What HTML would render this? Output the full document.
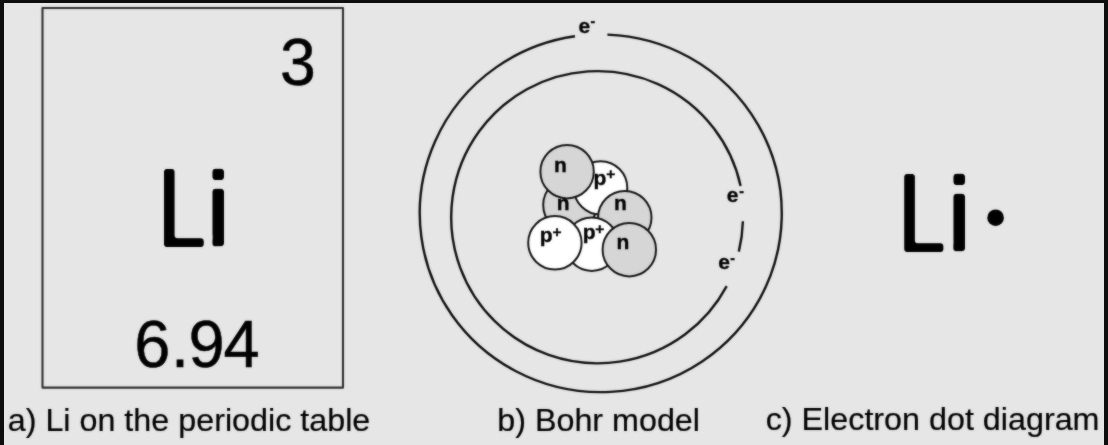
<!DOCTYPE html>
<html>
<head>
<meta charset="utf-8">
<title>Lithium</title>
<style>
html,body{margin:0;padding:0;background:#e6e6e6;}
body{width:1108px;height:445px;overflow:hidden;position:relative;}
svg{position:absolute;left:0;top:0;display:block;}
text{font-family:"Liberation Sans",sans-serif;fill:#000;}
.b{font-weight:bold;}
.r{stroke:#000;stroke-width:0.5;}
.r2{stroke:#000;stroke-width:0.2;}

</style>
</head>
<body>
<svg width="1108" height="445" viewBox="0 0 1108 445">
<defs><filter id="rnd" x="-0.1" y="-0.1" width="1.2" height="1.2"><feGaussianBlur stdDeviation="1.5" color-interpolation-filters="sRGB"/><feColorMatrix color-interpolation-filters="sRGB" type="matrix" values="1 0 0 0 0 0 1 0 0 0 0 0 1 0 0 0 0 0 5 -2"/></filter><clipPath id="cL1"><rect x="150" y="150" width="53.7" height="110"/><rect x="205" y="150" width="65" height="86"/><rect x="212.6" y="236" width="57.4" height="30"/></clipPath><clipPath id="cL2"><rect x="890" y="150" width="53.4" height="116"/><rect x="945" y="150" width="65" height="92"/><rect x="953.5" y="242" width="56.5" height="30"/></clipPath><filter id="soft" x="0" y="0" width="1" height="1" filterUnits="objectBoundingBox" color-interpolation-filters="sRGB"><feGaussianBlur in="SourceGraphic" stdDeviation="1" result="b"/><feComposite in="b" in2="SourceGraphic" operator="arithmetic" k1="0" k2="0.45" k3="0.55" k4="0"/></filter></defs>
<rect x="0" y="0" width="1108" height="445" fill="#e6e6e6"/>
<g filter="url(#soft)">
<rect x="-5" y="-5" width="1118" height="455" fill="#e6e6e6"/>

<!-- a) periodic table box -->
<rect x="42.5" y="8" width="300.5" height="379.6" fill="none" stroke="#2e2e2e" stroke-width="2.1" stroke-linejoin="round"/>
<text class="r" transform="translate(297.9 84.7) scale(0.96 1)" font-size="67" text-anchor="middle">3</text>
<g filter="url(#rnd)"><g clip-path="url(#cL1)"><text x="154.8" y="246.6" font-size="113">L<tspan dx="-10.81" dy="-1.4" font-size="103.4" stroke="#000" stroke-width="2.4" stroke-linejoin="round">i</tspan></text></g></g>
<text class="r" transform="translate(197.8 366.7) scale(0.97 1)" font-size="67" text-anchor="middle" letter-spacing="-0.6" dx="-1.2 1.2 0 -0.5">6.94</text>
<text transform="translate(7.7 431.3) scale(1 0.98)" font-size="32.3" class="r2">a) Li on the periodic table</text>

<!-- b) Bohr model -->
<g fill="none" stroke="#101010" stroke-width="2.4" id="orbits">
<path d="M607.4 34.6A181 178.8 0 1 1 575.0 36.3"/>
<path d="M726.7 286.1A146.4 146.1 0 1 1 740.6 185.9"/>
<path d="M742.9 221.3A145.8 145.8 0 0 1 738.8 251.6"/>
</g>
<g stroke="#151515" stroke-width="2" id="nuc">
<circle cx="569.9" cy="205" r="26.7" fill="#d6d6d6"/>
<circle cx="600.6" cy="187.9" r="26.7" fill="#fff"/>
<circle cx="624.8" cy="217.6" r="26.7" fill="#d6d6d6"/>
<circle cx="591.8" cy="244.2" r="26.7" fill="#fff"/>
<circle cx="554.9" cy="242.8" r="26.7" fill="#fff"/>
<circle cx="629.3" cy="249.7" r="26.7" fill="#d6d6d6"/>
<circle cx="567.1" cy="171.7" r="26.7" fill="#d6d6d6"/>
</g>
<g class="b" font-size="21" text-anchor="middle" stroke="#000" stroke-width="0.35">
<text x="560.3" y="171.9">n</text>
<text x="563.1" y="209.5">n</text>
<text x="620.4" y="209.5">n</text>
<text x="622.8" y="248.5">n</text>
<text x="599.9" y="184.6">p<tspan x="610.7" y="178.6" font-size="15.5">+</tspan></text>
<text x="546.1" y="241.8">p<tspan x="557" y="237.3" font-size="15.5">+</tspan></text>
<text x="589.1" y="239.1">p<tspan x="599.7" y="234.3" font-size="15.5">+</tspan></text>
<text x="584.3" y="32.5">e<tspan x="592.8" y="26.3" font-size="14">-</tspan></text>
<text x="732.7" y="202">e<tspan x="741.5" y="195.7" font-size="14">-</tspan></text>
<text x="724" y="269.3">e<tspan x="732.5" y="262.8" font-size="14">-</tspan></text>
</g>
<text transform="translate(497.2 431.0) scale(1 0.98)" font-size="32.3" class="r2">b) Bohr model</text>

<!-- c) electron dot -->
<g filter="url(#rnd)"><g clip-path="url(#cL2)"><text x="895.1" y="252.1" font-size="113">L<tspan dx="-10.21" dy="-1.8" font-size="103.4" stroke="#000" stroke-width="2.4" stroke-linejoin="round">i</tspan></text></g></g>
<circle cx="995.6" cy="217.7" r="8.3" fill="#000"/>
<text transform="translate(765.7 430.3) scale(1 0.98)" font-size="32.3" class="r2">c) Electron dot diagram</text>
</g>
<!-- frame -->
<rect x="-5" y="-5" width="1118" height="8" fill="#0e0e0e"/>
<rect x="-5" y="-5" width="9" height="455" fill="#0e0e0e"/>
<rect x="1104" y="-5" width="9" height="455" fill="#0e0e0e"/>
</svg>
</body>
</html>
